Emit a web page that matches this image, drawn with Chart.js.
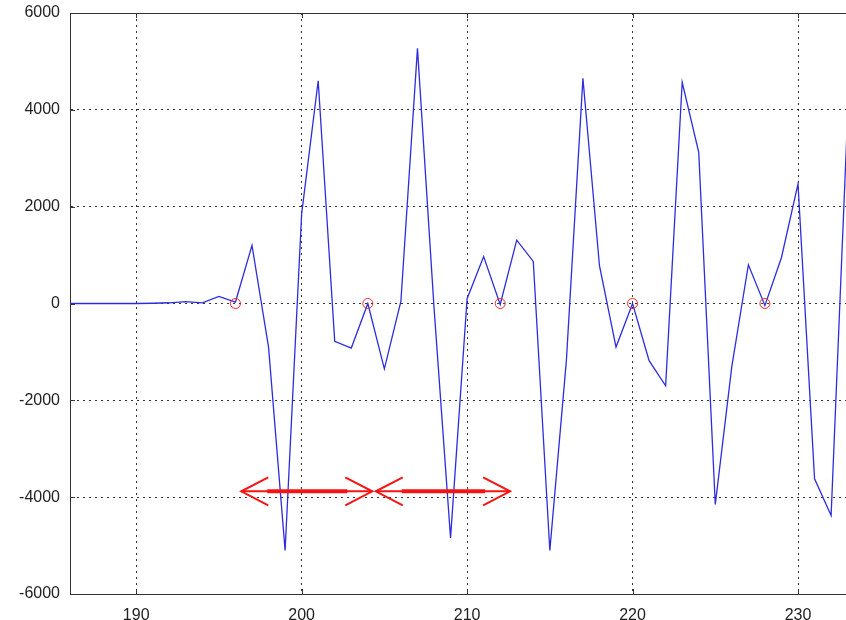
<!DOCTYPE html>
<html>

<head>
  <title>Signal</title>
  <meta content="text/html;charset=utf-8" http-equiv="Content-Type">
  <script src="https://cdn.jsdelivr.net/npm/chart.js"></script>
  <style>
    body { margin: 0; background: #fff; overflow: hidden; }
    #wrap { width: 846px; height: 620px; }
    canvas { display: block; }
  </style>
</head>

<body>
  <div id="wrap"><canvas id="myChart"></canvas></div>

  <script>
    // samples
    const sampleX = [186, 187, 188, 189, 190, 191, 192, 193, 194, 195, 196, 197, 198, 199, 200, 201,
      202, 203, 204, 205, 206, 207, 208, 209, 210, 211, 212, 213, 214, 215, 216, 217, 218, 219,
      220, 221, 222, 223, 224, 225, 226, 227, 228, 229, 230, 231, 232, 233]
    const sampleY = [0, 0, 0, 0, 0, 5, 15, 40, 15, 145, 30, 1200, -900, -5100, 1850, 4600,
      -780, -920, 0, -1350, 50, 5270, -80, -4840, 100, 970, -20, 1310, 870, -5100, -1180, 4650, 780, -900,
      0, -1180, -1700, 4570, 3120, -4150, -1300, 800, -40, 950, 2470, -3620, -4380, 3900]

    // red circles on the zero crossings
    const markX = [196, 204, 212, 220, 228]
    const markY = [0, 0, 0, 0, 0]

    // double arrows (period)
    const arrowFrom = [196.35, 204.48]
    const arrowTo = [204.27, 212.6]
    const arrowY = -3880

    const xTicks = [190, 200, 210, 220, 230]
    const yTicks = [-6000, -4000, -2000, 0, 2000, 4000, 6000]

    const framePlugin = {
      id: 'frame',
      afterDraw(chart) {
        const c = chart.ctx
        const a = chart.chartArea
        const xs = chart.scales.x
        const ys = chart.scales.y
        c.save()
        c.strokeStyle = '#333'
        c.lineWidth = 1
        c.beginPath()
        c.moveTo(a.left, a.top + 0.5)
        c.lineTo(a.right, a.top + 0.5)
        // small inner ticks
        xTicks.forEach(v => {
          const px = Math.round(xs.getPixelForValue(v)) + 0.5
          c.moveTo(px, a.top)
          c.lineTo(px, a.top + 5)
          c.moveTo(px, a.bottom)
          c.lineTo(px, a.bottom - 5)
        })
        yTicks.forEach(v => {
          const py = Math.round(ys.getPixelForValue(v)) + 0.5
          c.moveTo(a.left, py)
          c.lineTo(a.left + 5, py)
        })
        c.stroke()
        c.restore()
      }
    }

    const arrowPlugin = {
      id: 'arrows',
      afterDatasetsDraw(chart) {
        const c = chart.ctx
        const xs = chart.scales.x
        const y = chart.scales.y.getPixelForValue(arrowY)
        c.save()
        c.strokeStyle = 'rgb(245,20,20)'
        c.lineCap = 'butt'
        for (let i = 0; i < arrowFrom.length; i++) {
          const x1 = xs.getPixelForValue(arrowFrom[i])
          const x2 = xs.getPixelForValue(arrowTo[i])
          // thin shaft tip to tip
          c.lineWidth = 2
          c.beginPath()
          c.moveTo(x1, y)
          c.lineTo(x2, y)
          c.stroke()
          // thick middle
          c.lineWidth = 4
          c.beginPath()
          c.moveTo(x1 + 26, y)
          c.lineTo(x2 - 25, y)
          c.stroke()
          // open heads
          c.lineWidth = 2
          c.beginPath()
          c.moveTo(x1 + 27, y - 14)
          c.lineTo(x1, y)
          c.lineTo(x1 + 27, y + 14)
          c.moveTo(x2 - 27, y - 14)
          c.lineTo(x2, y)
          c.lineTo(x2 - 27, y + 14)
          c.stroke()
        }
        c.restore()
      }
    }

    const ctx = document.getElementById('myChart').getContext('2d')

    const gridStyle = {
      color: 'rgba(0,0,0,0.8)',
      lineWidth: 1,
      drawTicks: false
    }

    const plainNumber = v => String(v)

    const myChart = new Chart(ctx, {
      type: 'line',
      data: {
        datasets: [
          {
            label: 'marks',
            data: markX.map((x, i) => ({ x: x, y: markY[i] })),
            showLine: false,
            pointStyle: 'circle',
            pointRadius: 5,
            pointBorderWidth: 1,
            borderColor: 'rgb(240,40,40)',
            backgroundColor: 'rgba(0,0,0,0)'
          },
          {
            label: 'signal',
            data: sampleX.map((x, i) => ({ x: x, y: sampleY[i] })),
            borderColor: 'rgb(45,45,222)',
            borderWidth: 1.3,
            pointRadius: 0,
            tension: 0,
            fill: false
          }
        ]
      },
      options: {
        responsive: true,
        maintainAspectRatio: false,
        animation: false,
        layout: { autoPadding: false, padding: { top: 13, right: 0, bottom: 0, left: 0 } },
        plugins: {
          legend: { display: false },
          tooltip: { enabled: false }
        },
        scales: {
          x: {
            type: 'linear',
            min: 186,
            max: 232.9,
            afterFit: s => {
              s.height = 26
              s.paddingLeft = 0
              s.paddingRight = 0
            },
            afterBuildTicks: s => { s.ticks = xTicks.map(v => ({ value: v })) },
            grid: gridStyle,
            border: { display: true, color: '#333', width: 1, dash: [2, 4] },
            ticks: {
              padding: 12,
              color: '#222',
              font: { family: 'Liberation Sans', size: 16 },
              maxRotation: 0,
              callback: plainNumber
            }
          },
          y: {
            min: -6000,
            max: 6000,
            afterFit: s => {
              s.width = 70
              s.paddingTop = 0
              s.paddingBottom = 0
            },
            afterBuildTicks: s => { s.ticks = yTicks.map(v => ({ value: v })) },
            grid: gridStyle,
            border: { display: true, color: '#333', width: 1, dash: [2, 4] },
            ticks: {
              padding: 10,
              color: '#222',
              font: { family: 'Liberation Sans', size: 16 },
              callback: plainNumber
            }
          }
        }
      },
      plugins: [framePlugin, arrowPlugin]
    })
  </script>
</body>

</html>
